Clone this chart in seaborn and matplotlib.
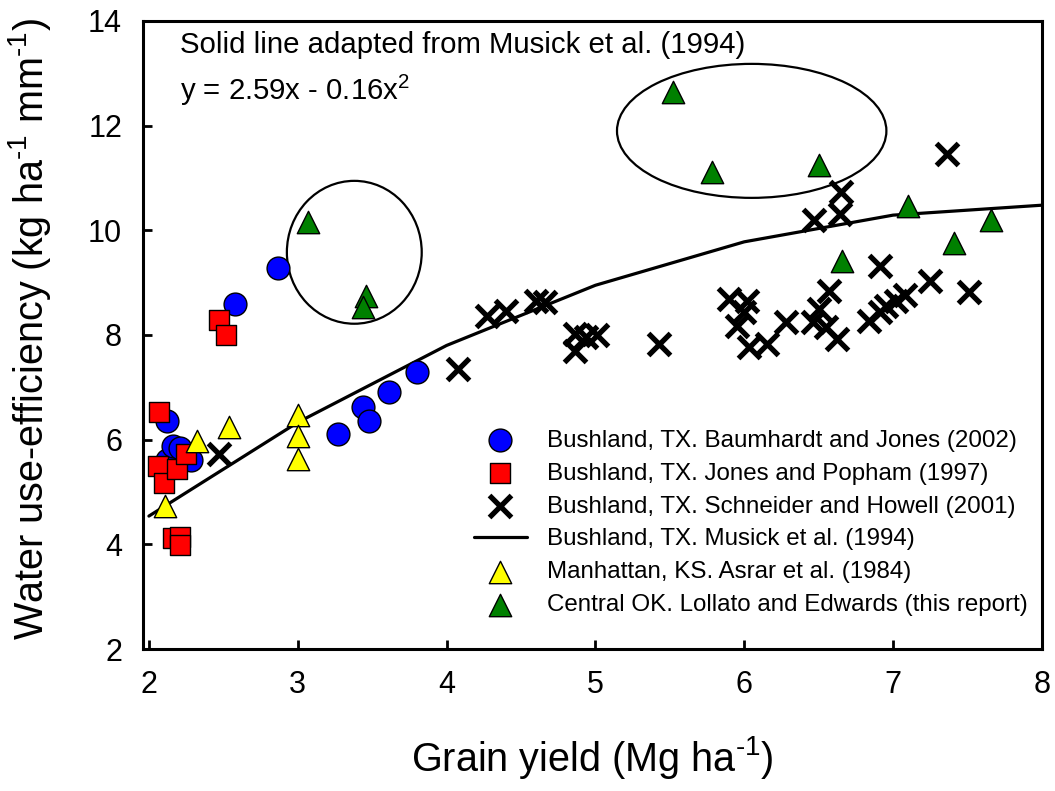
import matplotlib
matplotlib.use("Agg")
import matplotlib.pyplot as plt
import seaborn as sns
import pandas as pd
from matplotlib.patches import Ellipse

# ---------------- data ----------------
baum_x = [2.87, 2.58, 2.12, 2.12, 2.16, 2.21, 2.28, 3.27, 3.44, 3.48, 3.61, 3.80]
baum_y = [9.28, 8.59, 6.36, 5.62, 5.87, 5.84, 5.62, 6.11, 6.63, 6.36, 6.91, 7.30]

jones_x = [2.47, 2.52, 2.07, 2.06, 2.10, 2.19, 2.25, 2.16, 2.21, 2.21]
jones_y = [8.29, 8.00, 6.53, 5.50, 5.17, 5.44, 5.72, 4.12, 4.14, 3.99]

schn_x = [2.47, 4.08, 4.27, 4.40, 4.60, 4.66, 4.86, 4.86, 4.94, 5.01, 5.43,
          6.65, 6.47, 6.64, 6.57, 5.90, 6.02, 5.95, 6.00, 6.03, 6.15, 6.28,
          6.46, 6.50, 6.55, 6.62, 7.36, 6.91, 7.25, 7.51, 7.08, 7.02, 6.95,
          6.91, 6.84]
schn_y = [5.73, 7.35, 8.36, 8.46, 8.65, 8.63, 8.02, 7.70, 7.96, 8.00, 7.83,
          10.73, 10.20, 10.31, 8.85, 8.69, 8.65, 8.17, 8.44, 7.78, 7.82, 8.25,
          8.25, 8.50, 8.15, 7.93, 11.46, 9.32, 9.03, 8.82, 8.77, 8.65, 8.56,
          8.44, 8.27]

musick_x = [2, 3, 4, 5, 6, 7, 8]
musick_y = [4.54, 6.33, 7.80, 8.95, 9.78, 10.29, 10.48]

asrar_x = [2.54, 2.32, 2.11, 3.00, 3.00, 3.00]
asrar_y = [6.24, 5.97, 4.73, 6.47, 6.07, 5.63]

loll_x = [3.07, 3.46, 3.44, 5.52, 5.78, 6.50, 7.10, 7.66, 7.41, 6.66]
loll_y = [10.16, 8.75, 8.54, 12.64, 11.12, 11.24, 10.47, 10.20, 9.76, 9.42]

labels = ["Bushland, TX. Baumhardt and Jones (2002)",
          "Bushland, TX. Jones and Popham (1997)",
          "Bushland, TX. Schneider and Howell (2001)",
          "Bushland, TX. Musick et al. (1994)",
          "Manhattan, KS. Asrar et al. (1984)",
          "Central OK. Lollato and Edwards (this report)"]

x_ticks = [2, 3, 4, 5, 6, 7, 8]
y_ticks = [2, 4, 6, 8, 10, 12, 14]

# ---------------- style ----------------
sns.set_style("ticks")
plt.rcParams["font.family"] = ["Liberation Sans", "DejaVu Sans"]
plt.rcParams["mathtext.fontset"] = "custom"
plt.rcParams["mathtext.rm"] = "Liberation Sans"
plt.rcParams["mathtext.it"] = "Liberation Sans:italic"
plt.rcParams["mathtext.bf"] = "Liberation Sans:bold"
plt.rcParams["mathtext.default"] = "regular"
plt.rcParams["text.color"] = "black"
plt.rcParams["axes.labelcolor"] = "black"

fig = plt.figure(figsize=(10.55, 7.91), dpi=100)
ax = fig.add_axes([0.1355, 0.1795, 0.8521, 0.794])

# fitted curve
sns.lineplot(x=musick_x, y=musick_y, color="black", linewidth=2.3, ax=ax,
             label=labels[3], zorder=2)

# ellipses
ax.add_patch(Ellipse((3.38, 9.58), 0.906, 2.73, fill=False, ec="black", lw=1.6, zorder=1))
ax.add_patch(Ellipse((6.05, 11.90), 1.81, 2.56, fill=False, ec="black", lw=1.6, zorder=1))

sns.scatterplot(x=baum_x, y=baum_y, marker="o", s=270, color="#0000ff",
                edgecolor="black", linewidth=1.0, ax=ax, label=labels[0], zorder=3)
sns.scatterplot(x=jones_x, y=jones_y, marker="s", s=190, color="#ff0000",
                edgecolor="black", linewidth=1.0, ax=ax, label=labels[1], zorder=3)
sns.scatterplot(x=schn_x, y=schn_y, marker="x", s=250, color="black",
                linewidth=3.8, ax=ax, label=labels[2], zorder=3)
sns.scatterplot(x=asrar_x, y=asrar_y, marker="^", s=260, color="#ffff00",
                edgecolor="black", linewidth=1.0, ax=ax, label=labels[4], zorder=3)
sns.scatterplot(x=loll_x, y=loll_y, marker="^", s=260, color="#008000",
                edgecolor="black", linewidth=1.0, ax=ax, label=labels[5], zorder=3)

# axes
ax.set_xlim(1.96, 8.0)
ax.set_ylim(2, 14)
ax.set_xticks(x_ticks)
ax.set_yticks(y_ticks)
ax.tick_params(axis="both", direction="in", length=6.5, width=2, labelsize=22,
               pad=15, colors="black")
for sp in ax.spines.values():
    sp.set_linewidth(2.2)
    sp.set_color("black")

ax.set_xlabel(r"Grain yield (Mg ha$^{\text{-}1}$)", fontsize=28.5)
ax.set_ylabel(r"Water use-efficiency (kg ha$^{\text{-}1}$ mm$^{\text{-}1}$)", fontsize=28.5)
ax.xaxis.set_label_coords(0.5, -0.135)
ax.yaxis.set_label_coords(-0.100, 0.51)

ax.text(0.041, 0.962, "Solid line adapted from Musick et al. (1994)",
        transform=ax.transAxes, fontsize=21.2, va="center", ha="left")
ax.text(0.041, 0.89, "y = 2.59x - 0.16x$^{2}$",
        transform=ax.transAxes, fontsize=21.2, va="center", ha="left")

handles, labs = ax.get_legend_handles_labels()
hmap = dict(zip(labs, handles))
ax.legend([hmap[l] for l in labels], labels, loc="upper left",
          bbox_to_anchor=(0.368, 0.349), frameon=False, fontsize=17.4,
          handlelength=2.2, handletextpad=0.83, labelspacing=0.45,
          borderaxespad=0, borderpad=0, scatterpoints=1)

fig.savefig("out.png", dpi=100)
